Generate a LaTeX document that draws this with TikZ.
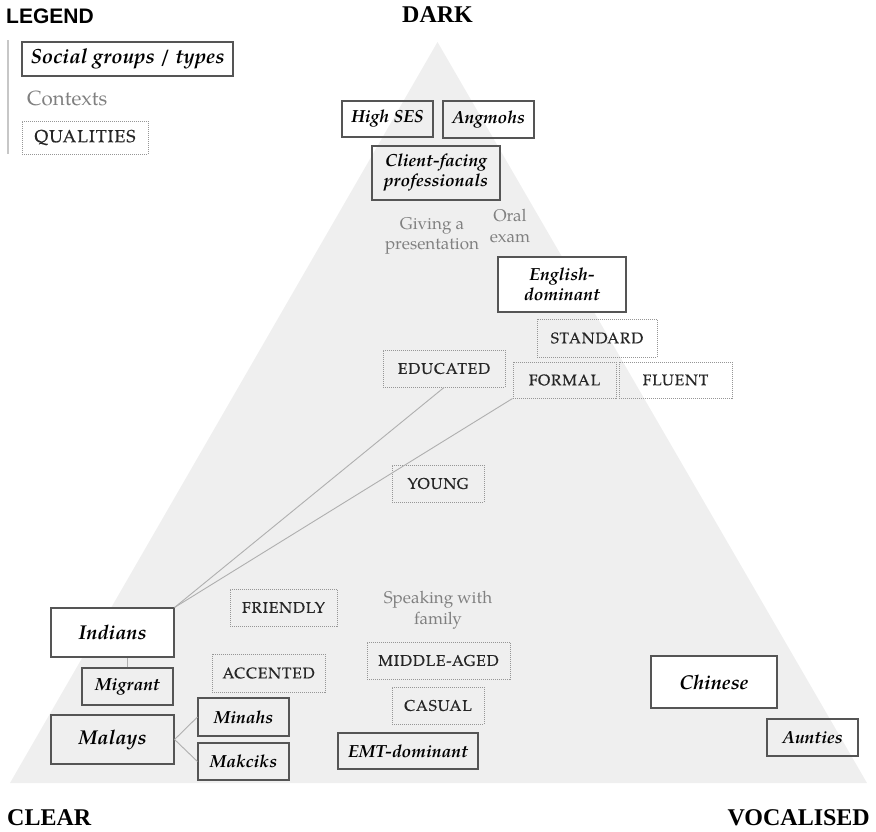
\documentclass[tikz,border=0pt]{standalone}
\usepackage{fontspec}
\setmainfont{texgyrepagella}[Extension=.otf, UprightFont=*-regular, BoldFont=*-bold, ItalicFont=*-italic, BoldItalicFont=*-bolditalic]
\newfontfamily\qualfont{texgyrepagella}[Extension=.otf, UprightFont=*-regular, LetterSpace=6, FakeBold=0.6]
\newfontfamily\titlefont{Liberation Serif}
\newfontfamily\legfont{Liberation Sans}
\definecolor{tri}{RGB}{239,239,239}
\definecolor{boxline}{RGB}{85,85,85}
\definecolor{dotline}{RGB}{150,150,150}
\definecolor{ctxgray}{RGB}{128,128,128}
\definecolor{linkgray}{RGB}{175,175,175}
\tikzset{
  grp/.style={draw=boxline, line width=1.1pt, inner sep=0pt, align=center,
    font=\bfseries\itshape\fontsize{17.5}{20}\selectfont},
  biggrp/.style={grp, font=\bfseries\itshape\fontsize{20}{23}\selectfont},
  qual/.style={draw=dotline, densely dotted, line width=1pt, inner sep=0pt,
    text=black!85, font=\qualfont\fontsize{15.4}{18}\selectfont},
  ctx/.style={text=ctxgray, align=center, inner sep=0pt,
    font=\fontsize{17}{20.5}\selectfont},
  title/.style={inner sep=0pt, font=\titlefont\bfseries\fontsize{24}{28}\selectfont},
  link/.style={draw=linkgray, line width=0.9pt}
}
\begin{document}
\begin{tikzpicture}[x=1pt, y=-1pt]
\useasboundingbox (0,0) rectangle (876,831);
% triangle
\fill[tri] (10,783) -- (437.5,42) -- (867,783) -- cycle;
% legend
\node[inner sep=0pt, anchor=west, font=\legfont\bfseries\fontsize{21}{24}\selectfont] (legend) at (6,16) {LEGEND};
\coordinate (lgtop) at (8,40);
\coordinate (lgbot) at (8,154);
\draw[draw=black!22, line width=1.6pt] (lgtop) -- (lgbot);
\node[grp, fill=white, font=\bfseries\itshape\fontsize{20.5}{23}\selectfont, minimum width=211pt, minimum height=34pt] (leggrp) at (127.5,59) {Social groups / types};
\node[ctx, anchor=west, font=\fontsize{20.5}{23}\selectfont] (legctx) at (27,98) {Contexts};
\node[qual, font=\qualfont\fontsize{17.5}{20}\selectfont, minimum width=126pt, minimum height=33pt] (legqual) at (85,137.5) {QUALITIES};
% titles
\node[title] (dark) at (437.5,15) {DARK};
\node[title, anchor=west] (clear) at (7,818) {CLEAR};
\node[title, anchor=east] (vocal) at (870,818) {VOCALISED};
% groups
\node[grp, minimum width=91pt, minimum height=36pt] (highses) at (387.5,119) {High SES};
\node[grp, minimum width=91pt, minimum height=37pt] (angmohs) at (488.5,119.5) {Angmohs};
\node[grp, minimum width=128pt, minimum height=54pt] (client) at (436,173) {Client-facing\\professionals};
\node[grp, fill=white, minimum width=128pt, minimum height=55pt] (english) at (562,284.5) {English-\\dominant};
\node[biggrp, fill=white, minimum width=126pt, minimum height=52pt] (chinese) at (714,682) {Chinese};
\node[biggrp, fill=white, minimum width=123pt, minimum height=49pt] (indians) at (112.5,632.5) {Indians};
\node[grp, minimum width=91pt, minimum height=37pt] (migrant) at (127.5,686.5) {Migrant};
\node[biggrp, minimum width=123pt, minimum height=49pt] (malays) at (112.5,739.5) {Malays};
\node[grp, minimum width=91pt, minimum height=38pt] (minahs) at (243.5,717) {Minahs};
\node[grp, minimum width=91pt, minimum height=37pt] (makciks) at (243.5,761.5) {Makciks};
\node[grp, minimum width=140pt, minimum height=36pt] (emt) at (408,751) {EMT-dominant};
\node[grp, minimum width=91pt, minimum height=37pt] (aunties) at (812.5,737.5) {Aunties};
% contexts
\node[ctx] (giving) at (432,236) {Giving a\\presentation};
\node[ctx] (oral) at (510,226) {Oral\\exam};
\node[ctx] (speaking) at (438,610) {Speaking with\\family};
% qualities
\node[qual, minimum width=120pt, minimum height=38pt] (standard) at (597,338) {STANDARD};
\node[qual, minimum width=122pt, minimum height=37pt] (educated) at (444,368.5) {EDUCATED};
\node[qual, minimum width=103pt, minimum height=36pt] (formal) at (564.5,380) {FORMAL};
\node[qual, minimum width=113pt, minimum height=36pt] (fluent) at (675.5,380) {FLUENT};
\node[qual, minimum width=92pt, minimum height=37pt] (young) at (438,483.5) {YOUNG};
\node[qual, minimum width=107pt, minimum height=37pt] (friendly) at (283.5,607.5) {FRIENDLY};
\node[qual, minimum width=113pt, minimum height=38pt] (accented) at (268.5,673) {ACCENTED};
\node[qual, minimum width=143pt, minimum height=37pt] (middle) at (438.5,660.5) {MIDDLE-AGED};
\node[qual, minimum width=92pt, minimum height=37pt] (casual) at (438,705.5) {CASUAL};
% connectors
\draw[link] (indians.north east) -- (educated.south);
\draw[link] (indians.north east) -- (formal.south west);
\draw[link] (migrant.north) -- (migrant.north |- indians.south);
\draw[link] (malays.east) -- (minahs.west);
\draw[link] (malays.east) -- (makciks.west);
\end{tikzpicture}
\end{document}
